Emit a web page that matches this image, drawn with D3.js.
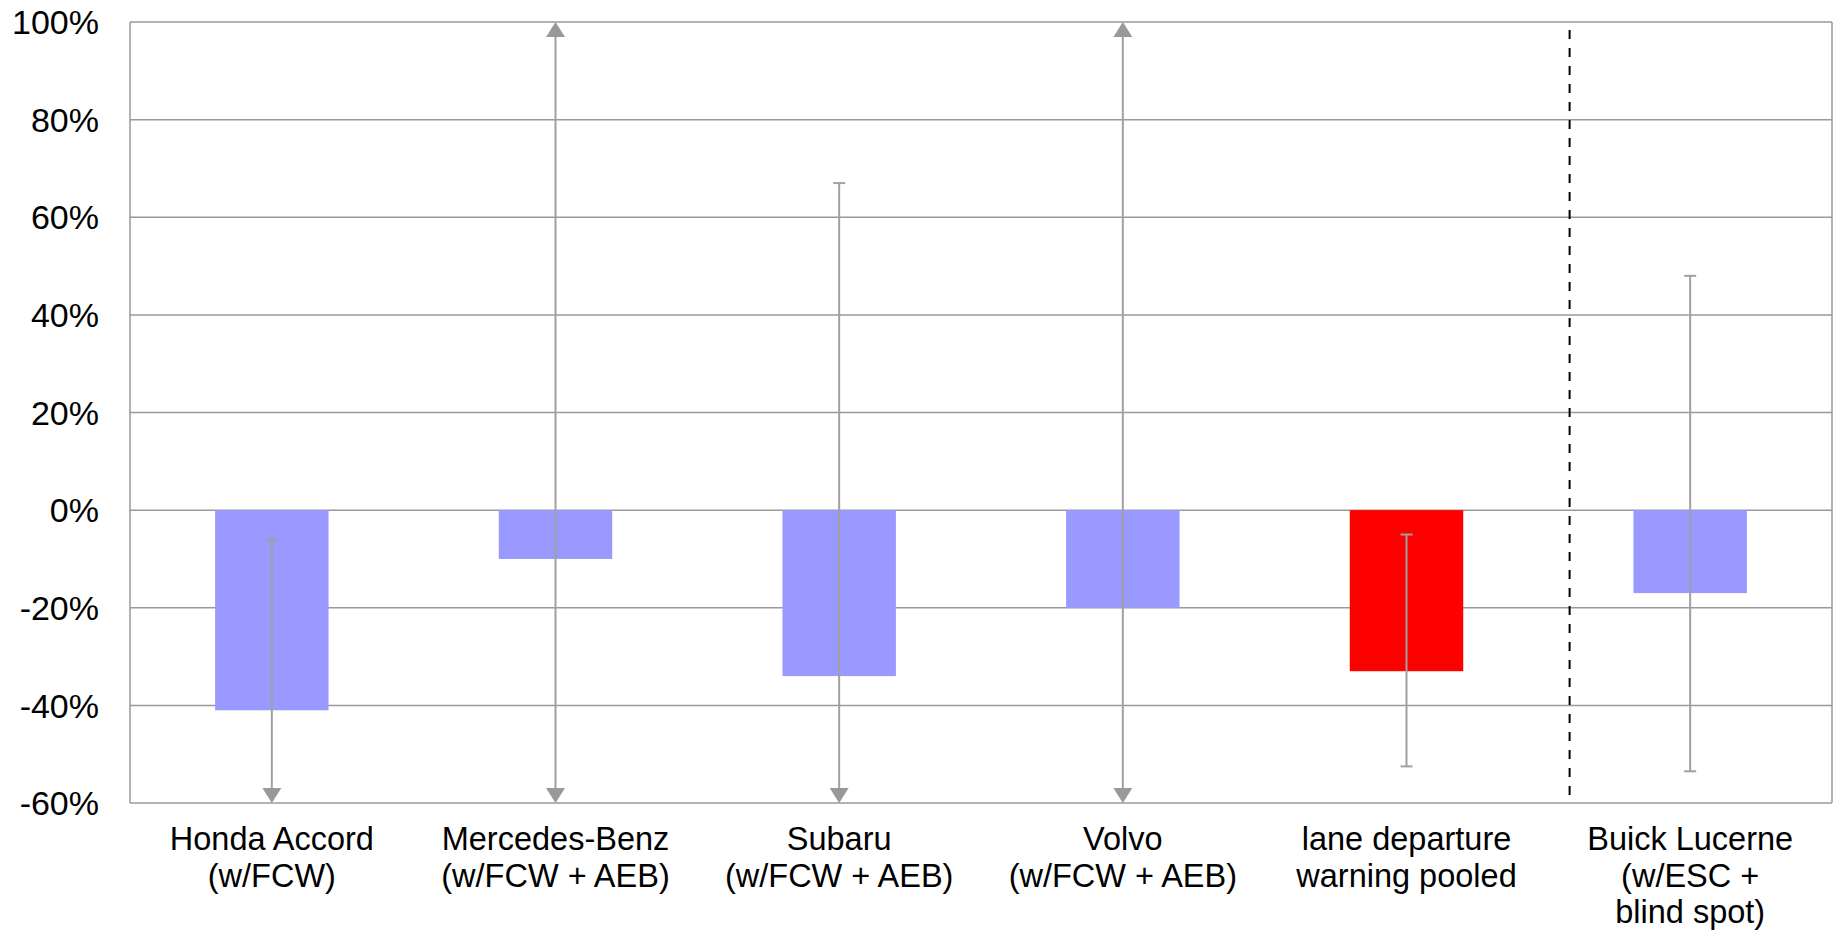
<!DOCTYPE html>
<html lang="en">
<head>
    <meta charset="UTF-8">
    <title>Crash reduction estimates by system</title>
    <script src="https://d3js.org/d3.v7.min.js"></script>
    <style>
        body { margin: 0; background: #fff; }
        text { font-family: "Liberation Sans", Arial, sans-serif; fill: #000; }
        .grid line { stroke: #999; stroke-width: 1.5; }
        .err { stroke: #a0a0a0; stroke-width: 2; fill: none; }
        .arrow { fill: #999; }
    </style>
</head>
<body>
    <svg id="chart" width="1837" height="930"></svg>
    <script>
        // categories (each label line separately)
        const categories = [
            ["Honda Accord", "(w/FCW)"],
            ["Mercedes-Benz", "(w/FCW + AEB)"],
            ["Subaru", "(w/FCW + AEB)"],
            ["Volvo", "(w/FCW + AEB)"],
            ["lane departure", "warning pooled"],
            ["Buick Lucerne", "(w/ESC +", "blind spot)"]
        ];
        // estimated effect, in percent
        const estimates = [-41, -10, -34, -20, -33, -17];
        // confidence interval ends; null = runs off the axis (drawn as arrow)
        const ciLow  = [null, null, null, null, -52.5, -53.5];
        const ciHigh = [-6, null, 67, null, -5, 48];
        const pooled = [false, false, false, false, true, false];
        const yTicks = [100, 80, 60, 40, 20, 0, -20, -40, -60];

        const svg = d3.select("#chart");
        const mLeft = 130, mRight = 1832, mTop = 22, mBottom = 803;

        const x = d3.scaleBand()
            .domain(d3.range(categories.length))
            .range([mLeft, mRight])
            .paddingInner(0.6)
            .paddingOuter(0.3);

        const y = d3.scaleLinear().domain([-60, 100]).range([mBottom, mTop]);

        // gridlines
        svg.append("g").attr("class", "grid")
            .selectAll("line").data(yTicks).join("line")
            .attr("x1", mLeft).attr("x2", mRight)
            .attr("y1", d => y(d)).attr("y2", d => y(d));

        // frame sides
        svg.append("g").attr("class", "grid")
            .selectAll("line").data([mLeft, mRight]).join("line")
            .attr("x1", d => d).attr("x2", d => d)
            .attr("y1", mTop).attr("y2", mBottom);

        // y tick labels
        svg.append("g").selectAll("text").data(yTicks).join("text")
            .attr("x", mLeft - 31)
            .attr("y", d => y(d))
            .attr("dy", "0.36em")
            .attr("text-anchor", "end")
            .style("font-size", "34px")
            .text(d => d + "%");

        // bars
        svg.append("g").selectAll("rect").data(estimates).join("rect")
            .attr("x", (d, i) => x(i))
            .attr("width", x.bandwidth())
            .attr("y", d => y(Math.max(0, d)))
            .attr("height", d => Math.abs(y(d) - y(0)))
            .attr("fill", (d, i) => pooled[i] ? "#ff0000" : "#9999ff");

        // error bars
        const eg = svg.append("g");
        const capW = 6, arrW = 9.5, arrH = 15;
        estimates.forEach((d, i) => {
            const cx = x(i) + x.bandwidth() / 2;
            const yLo = ciLow[i] === null ? y.range()[0] : y(ciLow[i]);
            const yHi = ciHigh[i] === null ? y.range()[1] : y(ciHigh[i]);
            eg.append("line").attr("class", "err")
                .attr("x1", cx).attr("x2", cx)
                .attr("y1", ciHigh[i] === null ? yHi + arrH : yHi)
                .attr("y2", ciLow[i] === null ? yLo - arrH : yLo);
            if (ciHigh[i] === null) {
                eg.append("path").attr("class", "arrow")
                    .attr("d", `M${cx},${yHi} L${cx + arrW},${yHi + arrH} L${cx - arrW},${yHi + arrH}Z`);
            } else {
                eg.append("line").attr("class", "err")
                    .attr("x1", cx - capW).attr("x2", cx + capW)
                    .attr("y1", yHi).attr("y2", yHi);
            }
            if (ciLow[i] === null) {
                eg.append("path").attr("class", "arrow")
                    .attr("d", `M${cx},${yLo} L${cx + arrW},${yLo - arrH} L${cx - arrW},${yLo - arrH}Z`);
            } else {
                eg.append("line").attr("class", "err")
                    .attr("x1", cx - capW).attr("x2", cx + capW)
                    .attr("y1", yLo).attr("y2", yLo);
            }
        });

        // dashed separator before the last category
        const sepX = x(5) - x.step() * 0.225;
        svg.append("line")
            .attr("x1", sepX).attr("x2", sepX)
            .attr("y1", mTop + 8).attr("y2", mBottom)
            .attr("stroke", "#000")
            .attr("stroke-width", 2)
            .attr("stroke-dasharray", "9,9");

        // category labels
        svg.append("g").selectAll("text").data(categories).join("text")
            .attr("text-anchor", "middle")
            .style("font-size", "32.5px")
            .attr("transform", (d, i) => `translate(${x(i) + x.bandwidth() / 2},850)`)
            .selectAll("tspan").data(d => d).join("tspan")
            .attr("x", 0)
            .attr("y", (d, j) => j * 36.5)
            .text(d => d);
    </script>
</body>
</html>
